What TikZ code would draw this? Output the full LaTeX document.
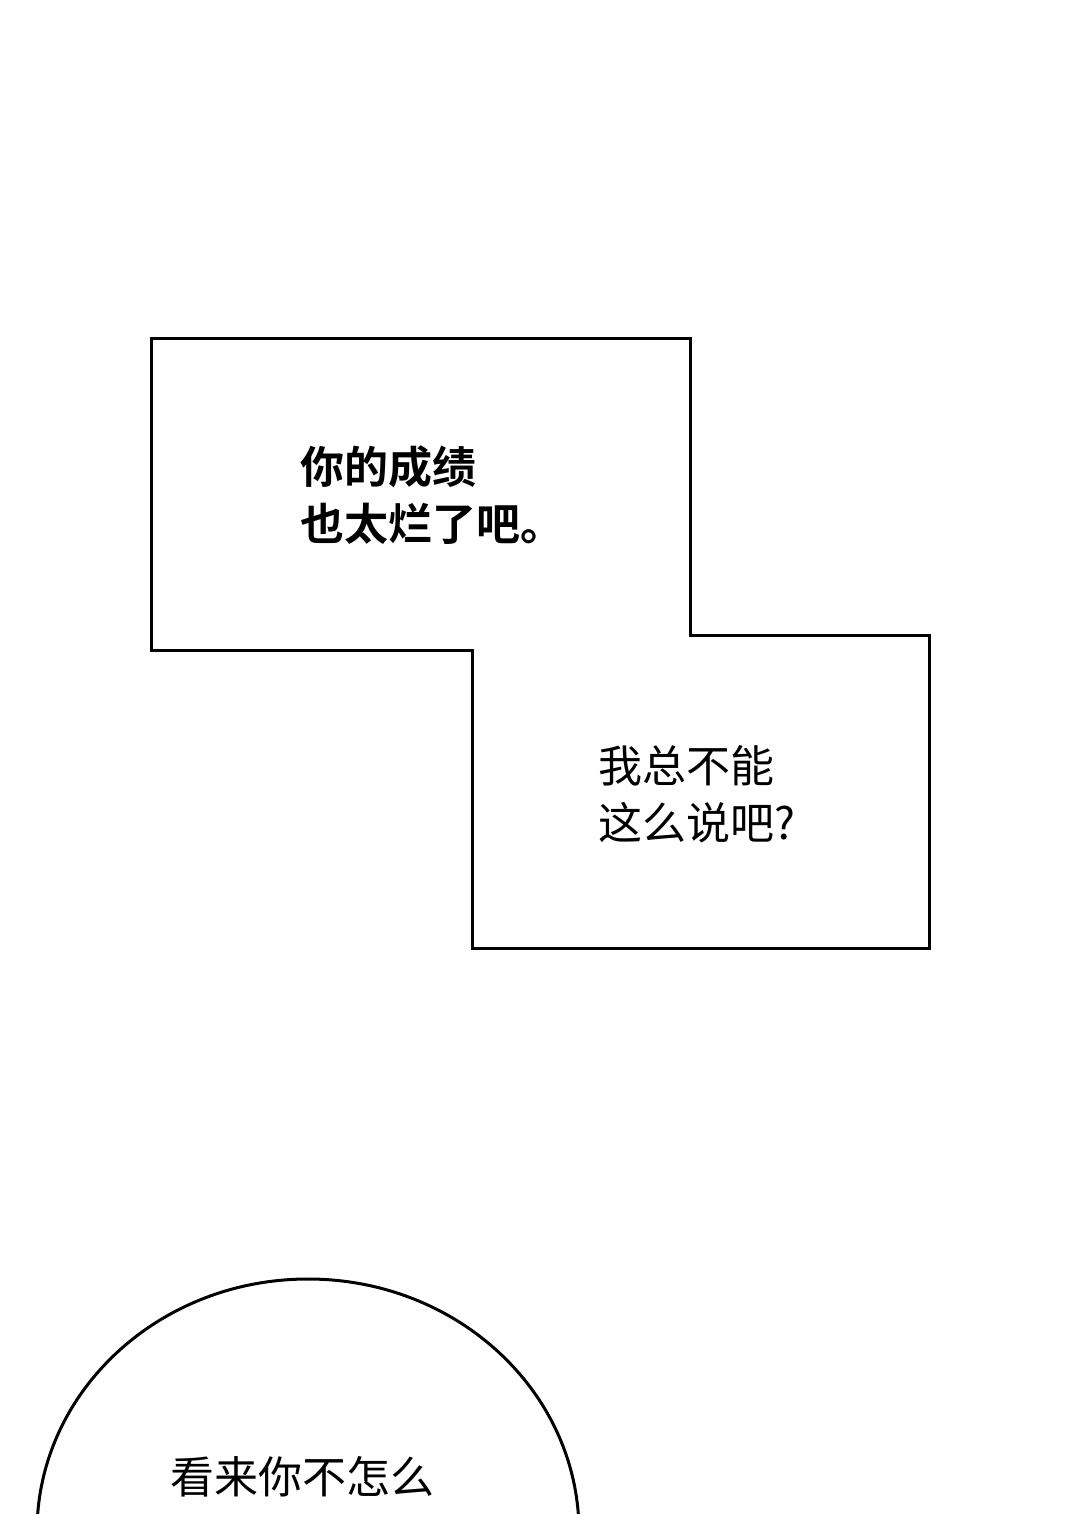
\documentclass[tikz,border=0pt]{standalone}
\usepackage{fontspec}
\newfontfamily\cjk{Noto Sans CJK SC}
\newfontfamily\cjkb{Noto Sans CJK SC Bold}
\begin{document}
\begin{tikzpicture}[x=1pt,y=-1pt,
  txt/.style={anchor=west,inner sep=0pt,align=left,font=\cjk\fontsize{44}{57}\selectfont},
  txtb/.style={txt,font=\cjkb\fontsize{44}{57}\selectfont},
  outl/.style={draw=black,line width=3pt}]
\useasboundingbox (0,0) rectangle (1088,1514);
\begin{scope}
\clip (0,0) rectangle (1088,1514);
\draw[outl] (151,338) -- (690,338) -- (690,635) -- (929,635) -- (929,948) -- (472,948) -- (472,650) -- (151,650) -- cycle;
\draw[outl] (308,1532) ellipse[x radius=271,y radius=253];
\node[txtb] (t1) at (300,495) {你的成绩\\也太烂了吧。};
\node[txt] (t2) at (598,794) {我总不能\\这么说吧?};
\node[txt] (t3) at (170,1477) {看来你不怎么};
\end{scope}
\end{tikzpicture}
\end{document}
